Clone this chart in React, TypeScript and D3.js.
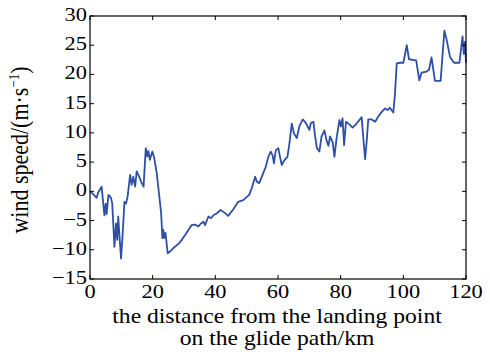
import React from 'react';
import * as d3 from 'd3';

// distance along glide path (km)
const distance = [
  0, 0.7, 2.1, 2.7, 3.7, 4.6, 5.0, 5.3, 5.9, 6.7, 7.1, 7.8, 8.3, 8.7, 9.0, 9.3, 9.9, 10.3,
  11.0, 11.5, 12.0, 12.8, 13.3, 13.8, 14.4, 14.9, 15.7, 16.5, 17.1, 17.8, 18.2, 18.6, 19.1,
  19.9, 20.5, 21.3, 22.0, 22.7, 23.1, 23.4, 23.7, 24.1, 24.8, 25.5, 26.6, 28.4, 29.3, 30.3,
  31.4, 32.4, 33.5, 34.6, 35.4, 36.2, 36.7, 37.8, 38.6, 39.4, 40.4, 41.7, 42.8, 44.1, 45.7,
  47.3, 48.9, 50.8, 51.6, 52.7, 53.2, 54.0, 55.3, 56.1, 56.9, 57.7, 58.3, 58.7, 59.3, 60.1,
  60.6, 61.2, 62.0, 63.0, 63.6, 64.4, 65.1, 66.0, 66.8, 67.9, 68.6, 69.3, 70.0, 70.5, 71.3,
  71.8, 72.4, 73.2, 73.9, 74.8, 75.6, 76.1, 76.6, 77.5, 78.0, 78.7, 79.6, 80.1, 80.6, 81.1,
  81.7, 82.7, 83.8, 85.1, 86.7, 87.2, 87.8, 88.3, 88.8, 89.9, 91.0, 92.0, 93.1, 94.2, 94.9,
  95.7, 96.8, 97.3, 97.9, 99.0, 100.0, 101.1, 101.8, 103.0, 104.1, 105.1, 105.8, 107.4,
  108.2, 109.0, 110.1, 111.9, 113.1, 113.8, 114.9, 116.2, 117.9, 118.9, 119.3, 119.7, 120,
];

// wind speed (m/s)
const windSpeed = [
  0, -0.3, -1.1, -0.1, 0.8, -4.1, -2.1, -3.9, -0.6, -1.1, -2.1, -9.5, -5.5, -8.3, -4.3, -6.7,
  -11.5, -8.4, -1.8, -2.1, -0.9, 2.8, 1.1, 2.5, 0.8, 3.4, 2.5, 1.4, 0.8, 7.4, 6.0, 6.9, 5.4,
  6.8, 5.7, 3.1, -0.3, -3.7, -8.0, -6.6, -8.0, -7.1, -10.6, -10.3, -9.7, -8.9, -8.3, -7.5,
  -6.6, -5.8, -5.7, -6.0, -5.5, -5.2, -5.8, -4.3, -4.6, -4.1, -3.8, -3.2, -3.6, -4.2, -3.1,
  -1.8, -1.5, -0.6, 0.5, 2.5, 1.7, 1.4, 3.1, 4.2, 5.9, 6.8, 6.1, 4.8, 7.0, 7.4, 6.0, 4.5,
  5.3, 5.9, 8.0, 11.6, 9.9, 9.1, 11.1, 12.3, 11.9, 11.3, 10.5, 11.7, 11.9, 9.6, 7.4, 6.8,
  9.4, 10.4, 8.5, 7.8, 9.4, 8.3, 5.9, 9.1, 12.2, 11.1, 12.5, 7.9, 11.9, 11.5, 10.9, 11.6,
  12.7, 9.3, 5.5, 8.5, 12.3, 12.3, 11.9, 12.8, 13.6, 14.2, 13.9, 14.3, 13.5, 16.4, 21.9,
  22.0, 22.0, 25.0, 22.6, 22.5, 22.4, 19.0, 20.3, 20.5, 20.8, 22.9, 18.9, 18.9, 27.5, 26.0,
  23.0, 22.0, 22.0, 26.5, 23.5, 25.6, 22.0,
];

const xTicks = [0, 20, 40, 60, 80, 100, 120];
const yTicks = [-15, -10, -5, 0, 5, 10, 15, 20, 25, 30];

const W = 490;
const H = 358;
const left = 90;
const right = 466;
const top = 16;
const bottom = 279;
const font = '"Liberation Serif", "Times New Roman", serif';
const stretch = 1.18; // source image is stretched horizontally

export default function App() {
  const x = d3.scaleLinear().domain([0, 120]).range([left, right]);
  const y = d3.scaleLinear().domain([-15, 30]).range([bottom, top]);
  const pts: [number, number][] = distance.map((d, i) => [d, windSpeed[i]]);
  const line = d3
    .line<[number, number]>()
    .x((d) => x(d[0]))
    .y((d) => y(d[1]));
  const tick = 4;
  const txt = { fontFamily: font };

  return (
    <svg width={W} height={H} style={{ position: 'absolute', left: 0, top: 0, background: '#fff' }}>
      <path d={line(pts) || ''} fill="none" stroke="#2d4fa6" strokeWidth={1.8} strokeLinejoin="round" />
      <rect x={left} y={top} width={right - left} height={bottom - top} fill="none" stroke="#000" strokeWidth={1.2} />
      {xTicks.map((t) => (
        <g key={'x' + t}>
          <line x1={x(t)} x2={x(t)} y1={bottom} y2={bottom - tick} stroke="#000" />
          <line x1={x(t)} x2={x(t)} y1={top} y2={top + tick} stroke="#000" />
          <text transform={`translate(${x(t)},298) scale(${stretch},1)`} fontSize={19} textAnchor="middle" style={txt}>
            {t}
          </text>
        </g>
      ))}
      {yTicks.map((t) => (
        <g key={'y' + t}>
          <line x1={left} x2={left + tick} y1={y(t)} y2={y(t)} stroke="#000" />
          <line x1={right} x2={right - tick} y1={y(t)} y2={y(t)} stroke="#000" />
          <text transform={`translate(87,${y(t) + 5}) scale(${stretch},1)`} fontSize={19} textAnchor="end" style={txt}>
            {t < 0 ? '\u2212' + Math.abs(t) : t}
          </text>
        </g>
      ))}
      <text transform={`translate(${(left + right) / 2 - 1},323) scale(${stretch},1)`} fontSize={20} textAnchor="middle" style={txt}>
        the distance from the landing point
      </text>
      <text transform={`translate(${(left + right) / 2 - 1},345) scale(${stretch},1)`} fontSize={20} textAnchor="middle" style={txt}>
        on the glide path/km
      </text>
      <text transform={`translate(28,150) scale(${stretch},1) rotate(-90)`} fontSize={22} textAnchor="middle" style={txt}>
        wind speed/(m·s
        <tspan fontSize={13} dy={-8}>
          −1
        </tspan>
        <tspan dy={8}>)</tspan>
      </text>
    </svg>
  );
}
